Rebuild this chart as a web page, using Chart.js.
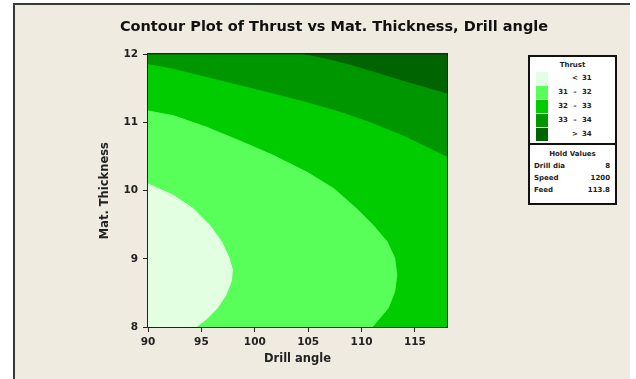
<!DOCTYPE html>
<html lang="en">
<head>
  <meta charset="UTF-8">
  <title>Contour Plot of Thrust</title>
  <script src="https://cdn.jsdelivr.net/npm/chart.js"></script>
  <style>
    * { box-sizing: border-box; margin:0; padding:0; }
    body { background:#fff; width:636px; height:379px; overflow:hidden; font-family:'DejaVu Sans', sans-serif; }
    #frame {
      position:absolute; left:13px; top:3px; width:617px; height:376px;
      background:#efebe1; border-top:2px solid #3a3a3a; border-left:2px solid #3a3a3a;
    }
    #chart { position:absolute; left:0; top:0; }
    .legend {
      position:absolute; left:528px; top:55px; width:89px; height:150px;
      background:#fff; border:2px solid #111; color:#222; font-size:7px; font-weight:bold;
    }
    .legend .ttl { position:absolute; left:0; width:100%; text-align:center; }
    .legend .sep { position:absolute; left:0; top:86px; width:100%; height:2px; background:#111; }
    .sw { position:absolute; left:6px; width:12px; height:13px; }
    .lo, .dash, .hi { position:absolute; text-align:right; }
    .lo { left:22px; width:16px; }
    .dash { left:40px; width:10px; text-align:center; }
    .hi { left:52px; width:16px; text-align:left; }
    .hv { position:absolute; left:4px; width:76px; }
    .hv span { position:absolute; right:0; }
  </style>
</head>
<body>
<div id="frame"></div>
<canvas id="chart" width="636" height="379"></canvas>

<div class="legend" id="legend"></div>

<script>
// axis ranges and ticks
const angleRange = [90, 118];
const thickRange = [8, 12];

// contour boundaries (Drill angle, Mat. Thickness)
const c31x = [90, 92.4, 94.2, 95.8, 96.9, 97.6, 97.9, 97.8, 97.3, 96.5, 95.5, 94.5];
const c31y = [10.10, 9.93, 9.74, 9.49, 9.25, 9.01, 8.84, 8.67, 8.47, 8.28, 8.12, 8.0];
const c32x = [90, 92.4, 95.5, 98.6, 101.7, 104.9, 107.4, 109.5, 111.1, 112.4, 113.1, 113.3, 113.1, 112.5, 111.0];
const c32y = [11.17, 11.10, 10.93, 10.73, 10.52, 10.27, 10.03, 9.74, 9.49, 9.25, 9.01, 8.76, 8.52, 8.28, 8.0];
const c33x = [90, 92.4, 95.5, 98.6, 101.7, 104.9, 108.0, 111.1, 114.2, 118];
const c33y = [11.85, 11.78, 11.66, 11.54, 11.42, 11.29, 11.15, 10.98, 10.78, 10.49];
const c34x = [104.5, 106.7, 109.2, 111.7, 114.2, 118];
const c34y = [12, 11.93, 11.83, 11.71, 11.59, 11.42];

// legend
const levelLo = ['', '31', '32', '33', ''];
const levelHi = ['31', '32', '33', '34', '34'];
const levelSign = ['<', '\u2013', '\u2013', '\u2013', '>'];
const levelColors = ['#e2ffe2', '#58ff58', '#00cc00', '#009600', '#006400'];
const heldNames = ['Drill dia', 'Speed', 'Feed'];
const heldValues = ['8', '1200', '113.8'];

const pts = (xs, ys) => xs.map((x, i) => ({x, y: ys[i]}));
const [x0, x1] = angleRange, [y0, y1] = thickRange;

// regions below each boundary, painted lightest on top
const regions = [
  [{x:x0,y:y0}, ...pts(c31x, c31y)],
  [{x:x0,y:y0}, ...pts(c32x, c32y)],
  [{x:x0,y:y0}, ...pts(c33x, c33y), {x:x1,y:y0}],
  [{x:x0,y:y0}, {x:x0,y:y1}, ...pts(c34x, c34y), {x:x1,y:y0}],
  [{x:x0,y:y0}, {x:x0,y:y1}, {x:x1,y:y1}, {x:x1,y:y0}]
];

const tickFont = {family:'DejaVu Sans', size:10.5, weight:'bold'};
const titleFont = {family:'DejaVu Sans', size:11.5, weight:'bold'};
const ink = '#222';

new Chart(document.getElementById('chart'), {
  type:'scatter',
  data:{
    datasets: regions.map((r, i) => ({
      data:r, showLine:true, fill:'shape', tension:0,
      backgroundColor:levelColors[i], borderColor:levelColors[i], borderWidth:1,
      pointRadius:0
    }))
  },
  options:{
    responsive:false, animation:false,
    layout:{padding:{left:32, right:0, top:0, bottom:0}},
    plugins:{
      legend:{display:false}, tooltip:{enabled:false},
      title:{display:true, text:'Contour Plot of Thrust vs Mat. Thickness, Drill angle',
        font:{family:'DejaVu Sans', size:14.5, weight:'bold'}, color:'#111', padding:{top:19, bottom:8}}
    },
    scales:{
      x:{type:'linear', position:'bottom', min:x0, max:x1,
        afterFit:s => { s.height = 52; },
        ticks:{stepSize:5, includeBounds:false, padding:4, font:tickFont, color:ink},
        grid:{drawOnChartArea:false, tickLength:5, color:ink},
        border:{display:true, color:ink, width:2},
        title:{display:true, text:'Drill angle', font:titleFont, color:ink, padding:{top:0, bottom:13}}},
      y:{type:'linear', position:'left', min:y0, max:y1,
        afterFit:s => { s.width = 148 - 32; },
        ticks:{stepSize:1, padding:5, font:tickFont, color:ink},
        grid:{drawOnChartArea:false, tickLength:5, color:ink},
        border:{display:true, color:ink, width:2},
        title:{display:true, text:'Mat. Thickness', font:titleFont, color:ink, padding:{top:66, bottom:0}}},
      y2:{type:'linear', position:'right', min:y0, max:y1,
        afterFit:s => { s.width = 636 - 447; },
        ticks:{display:false}, grid:{display:false},
        border:{display:true, color:ink, width:2}},
      x2:{type:'linear', position:'top', min:x0, max:x1,
        afterFit:s => { s.height = 10; },
        ticks:{display:false}, grid:{display:false},
        border:{display:true, color:ink, width:2}}
    }
  }
});

// legend box
const lg = document.getElementById('legend');
let html = '<div class="ttl" style="top:4px">Thrust</div>';
levelColors.forEach((c, i) => {
  const top = 15 + i * 14;
  html += `<div class="sw" style="top:${top}px;background:${c}"></div>`;
  html += `<div class="lo" style="top:${top + 2}px">${levelLo[i]}</div>`;
  html += `<div class="dash" style="top:${top + 2}px">${levelSign[i]}</div>`;
  html += `<div class="hi" style="top:${top + 2}px">${levelHi[i]}</div>`;
});
html += '<div class="sep"></div><div class="ttl" style="top:93px">Hold Values</div>';
heldNames.forEach((n, i) => {
  html += `<div class="hv" style="top:${105 + i * 12}px">${n}<span>${heldValues[i]}</span></div>`;
});
lg.innerHTML = html;
</script>
</body>
</html>
